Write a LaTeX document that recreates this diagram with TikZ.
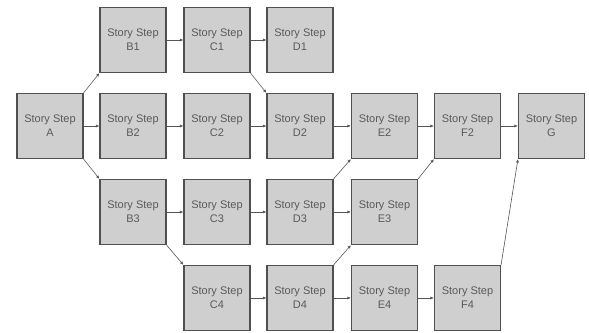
\documentclass[tikz,border=0pt]{standalone}
\usepackage{fontspec}
\setmainfont{Liberation Sans}
\usetikzlibrary{arrows.meta}
\definecolor{boxfill}{HTML}{CFCFCF}
\definecolor{boxline}{HTML}{505050}
\definecolor{txt}{HTML}{5A5A5A}
\definecolor{arrline}{HTML}{555555}
\begin{document}
\begin{tikzpicture}[x=1pt,y=-1pt,
  stepbox/.style={draw=boxline,fill=boxfill,line width=1.1pt,minimum width=66pt,minimum height=65pt,
    inner sep=0pt,align=center,text=txt,font=\fontsize{11}{14}\selectfont},
  arr/.style={draw=arrline,line width=0.6pt,-{Latex[length=3.5pt,width=3pt]}}]
\useasboundingbox (0,0) rectangle (589,332);
% columns
\def\xA{50}\def\xB{133}\def\xC{217}\def\xD{300}\def\xE{384.5}\def\xF{467.5}\def\xG{551.5}
\def\yI{40}\def\yII{126}\def\yIII{212}\def\yIV{298}
\node[stepbox] (A) at (\xA,\yII) {Story Step\\A};
\node[stepbox] (B1) at (\xB,\yI) {Story Step\\B1};
\node[stepbox] (C1) at (\xC,\yI) {Story Step\\C1};
\node[stepbox] (D1) at (\xD,\yI) {Story Step\\D1};
\node[stepbox] (B2) at (\xB,\yII) {Story Step\\B2};
\node[stepbox] (C2) at (\xC,\yII) {Story Step\\C2};
\node[stepbox] (D2) at (\xD,\yII) {Story Step\\D2};
\node[stepbox] (E2) at (\xE,\yII) {Story Step\\E2};
\node[stepbox] (F2) at (\xF,\yII) {Story Step\\F2};
\node[stepbox] (G) at (\xG,\yII) {Story Step\\G};
\node[stepbox] (B3) at (\xB,\yIII) {Story Step\\B3};
\node[stepbox] (C3) at (\xC,\yIII) {Story Step\\C3};
\node[stepbox] (D3) at (\xD,\yIII) {Story Step\\D3};
\node[stepbox] (E3) at (\xE,\yIII) {Story Step\\E3};
\node[stepbox] (C4) at (\xC,\yIV) {Story Step\\C4};
\node[stepbox] (D4) at (\xD,\yIV) {Story Step\\D4};
\node[stepbox] (E4) at (\xE,\yIV) {Story Step\\E4};
\node[stepbox] (F4) at (\xF,\yIV) {Story Step\\F4};
% horizontal connectors
\foreach \a/\b in {A/B2,B1/C1,C1/D1,B2/C2,C2/D2,D2/E2,E2/F2,F2/G,B3/C3,C3/D3,D3/E3,C4/D4,D4/E4,E4/F4}
  \draw[arr] (\a.east) -- (\b.west);
% diagonal connectors
\draw[arr] (A.north east) -- (B1.south west);
\draw[arr] (A.south east) -- (B3.north west);
\draw[arr] (C1.south east) -- (D2.north west);
\draw[arr] (B3.south east) -- (C4.north west);
\draw[arr] (D3.north east) -- (E2.south west);
\draw[arr] (E3.north east) -- (F2.south west);
\draw[arr] (D4.north east) -- (E3.south west);
\draw[arr] (F4.north east) -- (G.south west);
\end{tikzpicture}
\end{document}
